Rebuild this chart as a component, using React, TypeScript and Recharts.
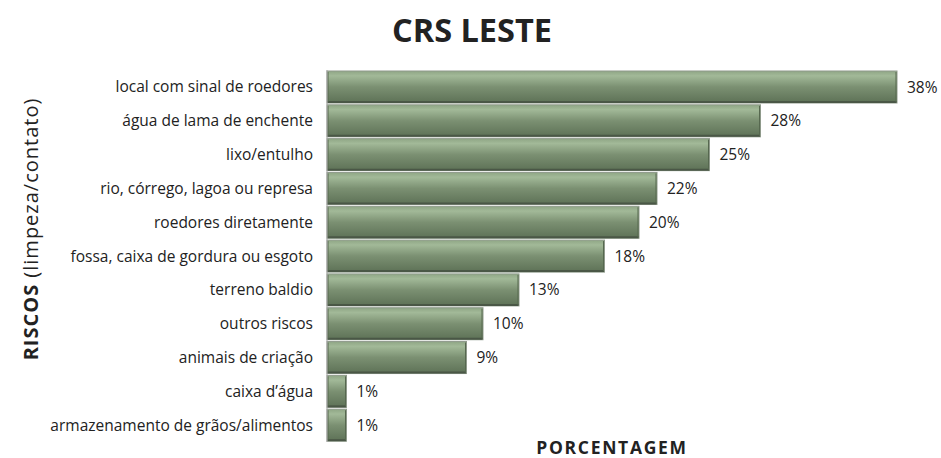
import React from "react";
import { BarChart, Bar, XAxis, YAxis, LabelList } from "recharts";

const categories = [
  "local com sinal de roedores",
  "água de lama de enchente",
  "lixo/entulho",
  "rio, córrego, lagoa ou represa",
  "roedores diretamente",
  "fossa, caixa de gordura ou esgoto",
  "terreno baldio",
  "outros riscos",
  "animais de criação",
  "caixa d’água",
  "armazenamento de grãos/alimentos",
];
const values = [38, 28.9, 25.5, 22, 20.8, 18.5, 12.8, 10.4, 9.3, 1.3, 1.3];
const valueLabels = ["38%", "28%", "25%", "22%", "20%", "18%", "13%", "10%", "9%", "1%", "1%"];

const data = categories.map((c, i) => ({ name: c, value: values[i], label: valueLabels[i] }));

const FONT = "'Open Sans', 'Noto Sans', sans-serif";

const BarShape = (props: any) => {
  const { x, y, width, height } = props;
  if (width <= 0) return null;
  return (
    <g>
      <rect x={x} y={y} width={width} height={height} fill="url(#barGrad)" stroke="#8f9a8b" strokeWidth={1} />
      <line x1={x + 0.5} x2={x + width - 0.5} y1={y + height - 1} y2={y + height - 1} stroke="#4a5746" strokeWidth={2} />
      <line x1={x + 1} x2={x + 1} y1={y + 1} y2={y + height - 1} stroke="#56684f" strokeWidth={1} />
      <line x1={x + width - 1} x2={x + width - 1} y1={y + 1} y2={y + height - 1} stroke="#56684f" strokeWidth={1} />
    </g>
  );
};

export default function App() {
  return (
    <div style={{ position: "absolute", left: 0, top: 0, width: 941, height: 458, background: "#fff", fontFamily: FONT }}>
      <BarChart
        width={941}
        height={458}
        data={data}
        layout="vertical"
        margin={{ top: 70, right: 44, bottom: 16, left: 0 }}
        barCategoryGap={1}
      >
        <defs>
          <linearGradient id="barGrad" x1="0" y1="0" x2="0" y2="1">
            <stop offset="0%" stopColor="#8fa685" />
            <stop offset="15%" stopColor="#a2b998" />
            <stop offset="50%" stopColor="#7b9072" />
            <stop offset="100%" stopColor="#5d7156" />
          </linearGradient>
        </defs>
        <XAxis type="number" domain={[0, 38]} hide />
        <YAxis
          type="category"
          dataKey="name"
          width={327}
          axisLine={{ stroke: "#a6a6a6" }}
          tickLine={false}
          tickSize={0}
          tickMargin={14}
          interval={0}
          tick={{ fontSize: 15.5, fill: "#222", fontFamily: FONT }}
        />
        <Bar dataKey="value" isAnimationActive={false} shape={<BarShape />}>
          <LabelList dataKey="label" position="right" offset={10} style={{ fontSize: 15.5, fill: "#222", fontFamily: FONT }} />
        </Bar>
      </BarChart>
      <div style={{ position: "absolute", left: 0, width: 941, top: 11, textAlign: "center", paddingLeft: 3, boxSizing: "border-box", fontSize: 32.5, fontWeight: 700, color: "#222", lineHeight: "38px" }}>
        CRS LESTE
      </div>
      <div style={{ position: "absolute", left: 612, top: 447, transform: "translate(-50%, -50%)", fontSize: 17.5, letterSpacing: 1.7, lineHeight: "16px", fontWeight: 700, color: "#222", whiteSpace: "nowrap" }}>
        PORCENTAGEM
      </div>
      <div style={{ position: "absolute", left: 31, top: 229, transform: "translate(-50%, -50%) rotate(-90deg)", fontSize: 20, letterSpacing: 1.0, lineHeight: "22px", color: "#222", whiteSpace: "nowrap" }}>
        <span style={{ fontWeight: 700 }}>RISCOS</span> (limpeza/contato)
      </div>
    </div>
  );
}
